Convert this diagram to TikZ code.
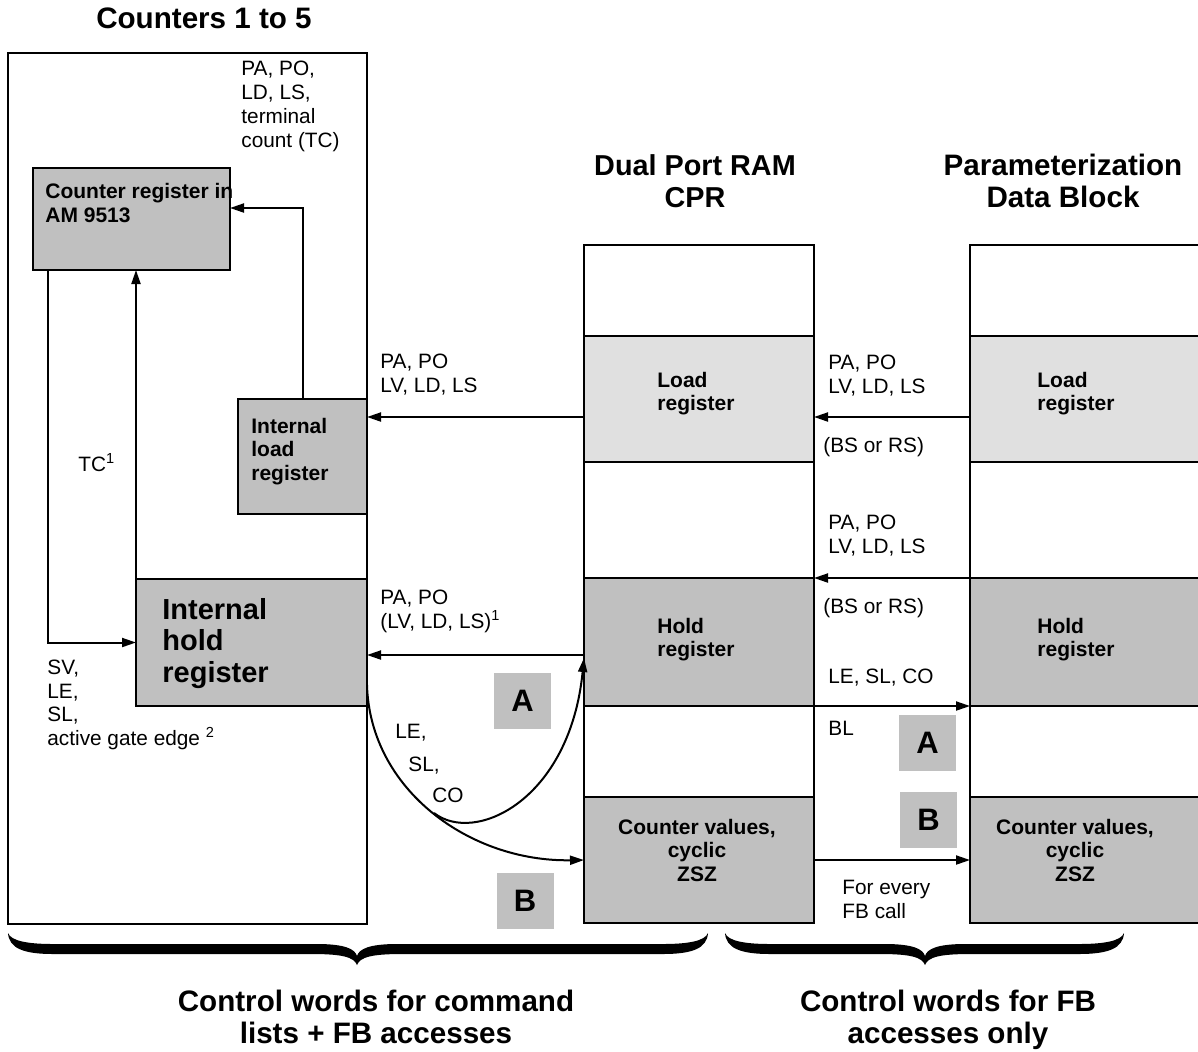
\documentclass[tikz,border=0pt]{standalone}
\usepackage{fontspec}
\setmainfont{Liberation Sans}
\usetikzlibrary{arrows.meta,calc,fit}
\definecolor{gdark}{HTML}{C0C0C0}
\definecolor{glight}{HTML}{E0E0E0}
\newcommand\fatbrace[3]{%
\fill (#1,933) .. controls (#1+1,948) and (#1+15,954) .. (#1+45,954) -- (#2-45,954)
 .. controls (#2-15,954) and (#2-3,957) .. (#2,965)
 .. controls (#2+3,957) and (#2+15,954) .. (#2+45,954) -- (#3-45,954)
 .. controls (#3-15,954) and (#3-1,948) .. (#3,933)
 .. controls (#3-3,941) and (#3-20,944) .. (#3-45,944) -- (#2+40,944)
 .. controls (#2+12,944) and (#2+2,949) .. (#2,956)
 .. controls (#2-2,949) and (#2-12,944) .. (#2-40,944) -- (#1+45,944)
 .. controls (#1+20,944) and (#1+3,941) .. (#1,933) -- cycle;}
\begin{document}
\begin{tikzpicture}[x=0.5pt,y=-0.5pt,
  box/.style={draw, line width=1pt, inner sep=0pt, outer sep=0pt},
  lbl/.style={font=\fontsize{10.4}{12}\selectfont, inner sep=0pt, align=left, anchor=base west},
  blbl/.style={font=\fontsize{10.5}{11.75}\selectfont\bfseries, inner sep=0pt, align=left, anchor=base west},
  bigl/.style={font=\fontsize{14.5}{15.75}\selectfont\bfseries, inner sep=0pt, align=left, anchor=base west},
  head/.style={font=\fontsize{14.8}{16}\selectfont\bfseries, inner sep=0pt, align=center, anchor=base},
  ab/.style={fill=gdark, minimum width=28.5pt, minimum height=28pt, inner sep=0pt, font=\fontsize{15.5}{16}\selectfont\bfseries},
  arr/.style={line width=1pt, -{Triangle[length=7pt,width=4.5pt]}},
  ln/.style={line width=1pt}]
\useasboundingbox (0,0) rectangle (1198,1051);
\clip (0,0) rectangle (1198,1051);

% left block
\node[box, fit={(8,53) (367,924)}] (outer) {};
\node[box, fill=gdark, fit={(33,168) (230,270)}] (ctr) {};
\node[box, fill=gdark, fit={(238,399) (367,514)}] (intload) {};
\node[box, fill=gdark, fit={(136,579) (367,706)}] (hold) {};

% CPR column
\node[box, fit={(584,245) (814,336)}] (cprtop) {};
\node[box, fill=glight, fit={(584,336) (814,462)}] (cprload) {};
\node[box, fit={(584,462) (814,578)}] (cprgapa) {};
\node[box, fill=gdark, fit={(584,578) (814,706)}] (cprhold) {};
\node[box, fit={(584,706) (814,797)}] (cprgapb) {};
\node[box, fill=gdark, fit={(584,797) (814,923)}] (cprcv) {};

% Parameterization data block column
\node[box, fit={(970,245) (1240,336)}] (pdbtop) {};
\node[box, fill=glight, fit={(970,336) (1240,462)}] (pdbload) {};
\node[box, fit={(970,462) (1240,578)}] (pdbgapa) {};
\node[box, fill=gdark, fit={(970,578) (1240,706)}] (pdbhold) {};
\node[box, fit={(970,706) (1240,797)}] (pdbgapb) {};
\node[box, fill=gdark, fit={(970,797) (1240,923)}] (pdbcv) {};

% A / B markers
\node[ab] (aleft) at (522.5,701) {A};
\node[ab] (bleft) at (525,901) {B};
\node[ab] (aright) at (927.5,742.5) {A};
\node[ab] (bright) at (928.5,819.5) {B};

% headings
\node[head] (h1) at (204,28) {Counters 1 to 5};
\node[head, font=\fontsize{14.4}{16}\selectfont\bfseries] (h2) at (695,207) {Dual Port RAM\\CPR};
\node[head] (h3) at (1063,207) {Parameterization\\Data Block};

% box texts (anchor = baseline of the last line)
\node[blbl] (tctr) at (45,222) {Counter register in\\AM 9513};
\node[blbl] (tintload) at (251,480) {Internal\\load\\register};
\node[bigl] (thold) at (162,682) {Internal\\hold\\register};
\node[blbl, font=\fontsize{10.5}{11.5}\selectfont\bfseries] (tcprload) at (657,410) {Load\\register};
\node[blbl, font=\fontsize{10.5}{11.5}\selectfont\bfseries] (tcprhold) at (657,656) {Hold\\register};
\node[blbl, align=center, anchor=base] (tcprcv) at (697,881) {Counter values,\\cyclic\\ZSZ};
\node[blbl, font=\fontsize{10.5}{11.5}\selectfont\bfseries] (tpdbload) at (1037,410) {Load\\register};
\node[blbl, font=\fontsize{10.5}{11.5}\selectfont\bfseries] (tpdbhold) at (1037,656) {Hold\\register};
\node[blbl, align=center, anchor=base] (tpdbcv) at (1075,881) {Counter values,\\cyclic\\ZSZ};

% labels
\node[lbl] (lpa) at (241,147) {PA, PO,\\LD, LS,\\terminal\\count (TC)};
\node[lbl] (ltc) at (78,471) {TC\textsuperscript{1}};
\node[lbl, font=\fontsize{10.4}{11.7}\selectfont] (lsv) at (47,745) {SV,\\LE,\\SL,\\active gate edge \textsuperscript{2}};
\node[lbl] (lpa2) at (380,392) {PA, PO\\LV, LD, LS};
\node[lbl] (lpa3) at (380,628) {PA, PO\\(LV, LD, LS)\textsuperscript{1}};
\node[lbl] (lle) at (395,738) {LE,};
\node[lbl] (lsl) at (408,771) {SL,};
\node[lbl] (lco) at (432,802) {CO};
\node[lbl] (rpa1) at (828,393) {PA, PO\\LV, LD, LS};
\node[lbl] (rbs1) at (823,452) {(BS or RS)};
\node[lbl] (rpa2) at (828,553) {PA, PO\\LV, LD, LS};
\node[lbl] (rbs2) at (823,613) {(BS or RS)};
\node[lbl] (rle) at (828,683) {LE, SL, CO};
\node[lbl] (rbl) at (828,735) {BL};
\node[lbl] (rfor) at (842,918) {For every\\FB call};

% helper coordinates
\coordinate (tcx) at (48,0);
\coordinate (yload) at (0,417);
\coordinate (yctr) at (0,208);
\coordinate (yhold) at (0,655);
\coordinate (ycv) at (0,860);
\coordinate (ystart) at (0,685);
\coordinate (yaend) at (0,658);
\coordinate (branch) at (434,813);

% connectors
\draw[arr] (cprload.west |- yload) -- (intload.east |- yload);
\draw[arr] (pdbload.west |- yload) -- (cprload.east |- yload);
\draw[arr] (pdbhold.north west) -- (cprhold.north east);
\draw[arr] (cprhold.west |- yhold) -- (hold.east |- yhold);
\draw[arr] (cprhold.south east) -- (pdbhold.south west);
\draw[arr] (cprcv.east |- ycv) -- (pdbcv.west |- ycv);
\draw[arr] (hold.north west) -- (hold.north west |- ctr.south);
\draw[arr] (ctr.south -| tcx) -- (tcx |- hold.west) -- (hold.west);
\draw[arr] (intload.north) |- (ctr.east |- yctr);
\draw[arr] (hold.east |- ystart) .. controls (370,790) and (470,862) .. (cprcv.west |- ycv);
\draw[arr] (branch) .. controls (475,845) and (570,800) .. (cprhold.west |- yaend);

% braces
\fatbrace{8}{357}{708}
\fatbrace{725}{925}{1124}
\node[head] (b1) at (376,1043) {Control words for command\\lists + FB accesses};
\node[head] (b2) at (948,1043) {Control words for FB\\accesses only};
\end{tikzpicture}
\end{document}
